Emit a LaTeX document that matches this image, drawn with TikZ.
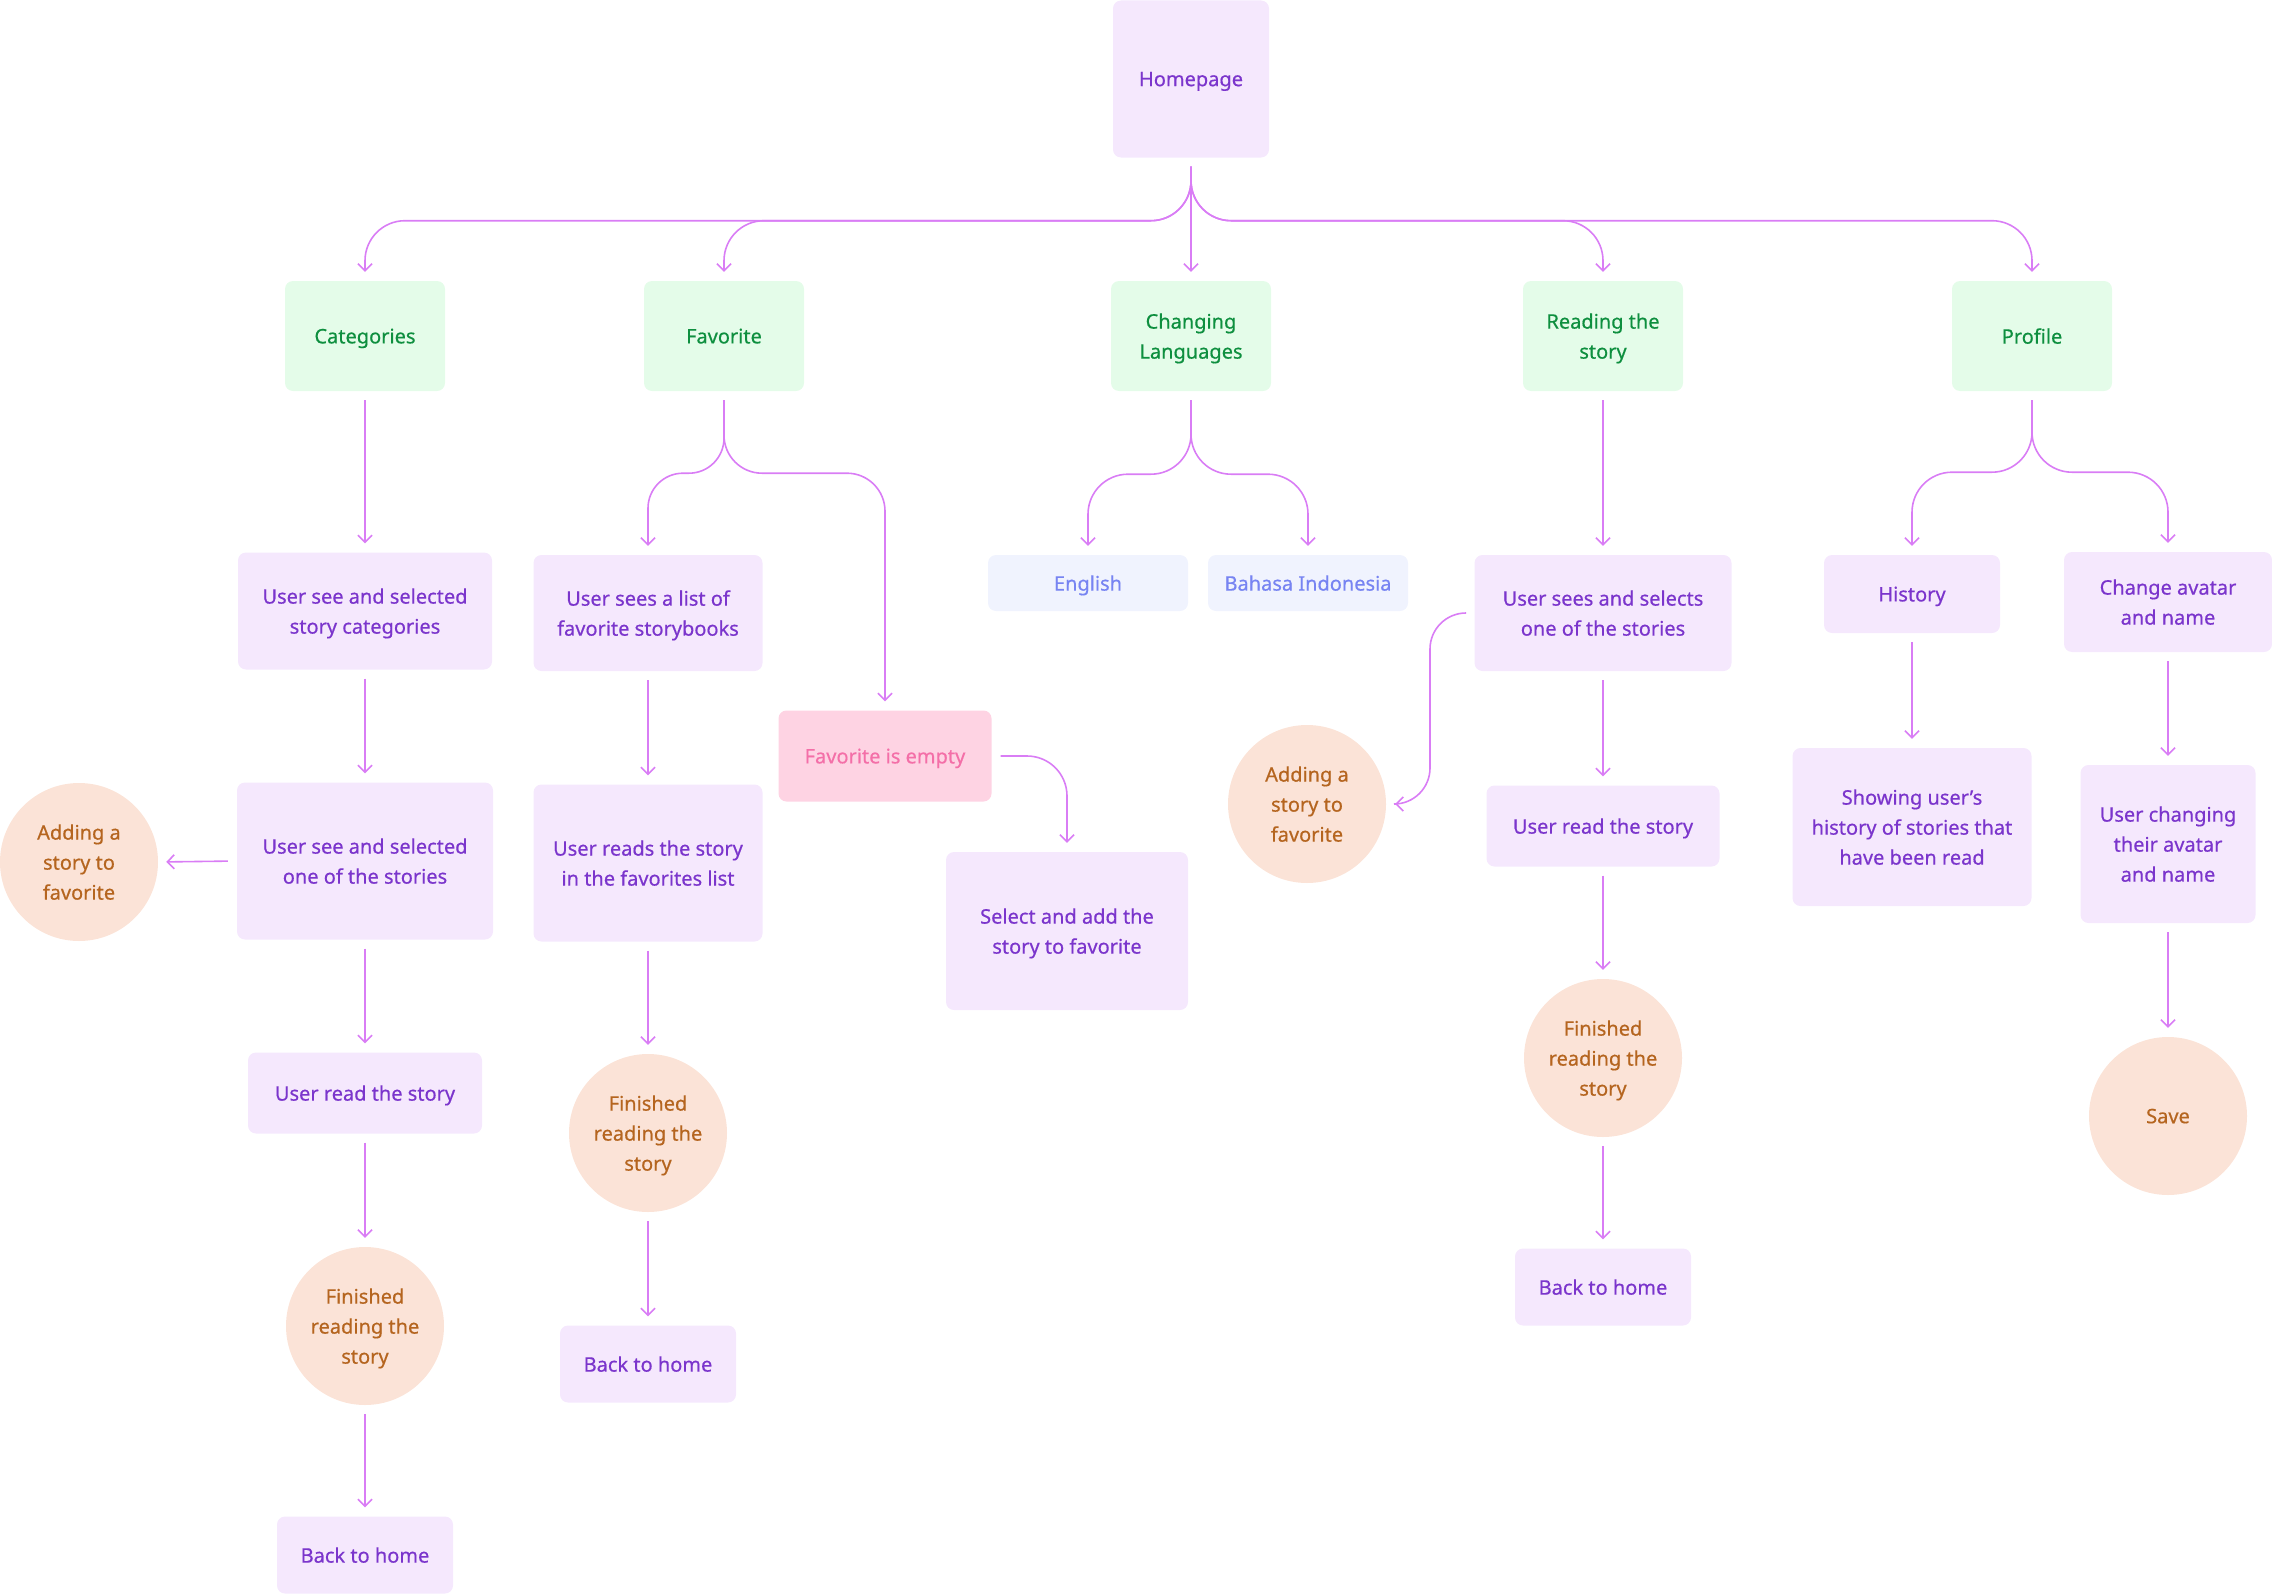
\documentclass[tikz,border=0pt]{standalone}
\usepackage{fontspec}
\setmainfont{Noto Sans}[FakeBold=0.5]
\usetikzlibrary{arrows.meta,calc}
\definecolor{linec}{HTML}{D97DF5}
\definecolor{boxfill}{HTML}{F5E8FD}
\definecolor{boxtext}{HTML}{7B35CC}
\definecolor{greenfill}{HTML}{E4FCE9}
\definecolor{greentext}{HTML}{0E8F3F}
\definecolor{langfill}{HTML}{F0F3FE}
\definecolor{langtext}{HTML}{7784F2}
\definecolor{pinkfill}{HTML}{FED3E3}
\definecolor{pinktext}{HTML}{F46FA8}
\definecolor{peach}{HTML}{FBE3D7}
\definecolor{browntext}{HTML}{B5651F}
\tikzset{
  basebox/.style={rectangle, rounded corners=8pt, inner sep=0pt, align=center, text depth=0pt, font=\fontsize{20}{30}\selectfont},
  pbox/.style={basebox, fill=boxfill, text=boxtext},
  gbox/.style={basebox, fill=greenfill, text=greentext, minimum width=160pt, minimum height=110pt},
  lbox/.style={basebox, fill=langfill, text=langtext, minimum width=200pt, minimum height=56pt},
  ebox/.style={basebox, fill=pinkfill, text=pinktext},
  circ/.style={circle, fill=peach, text=browntext, minimum size=158pt, inner sep=0pt, align=center, text depth=0pt, font=\fontsize{20}{30}\selectfont},
  conn/.style={draw=linec, line width=1.6pt, -{Straight Barb[length=7pt,width=14pt,line width=1.6pt]}, shorten >=9pt, shorten <=9pt}
}
\begin{document}
\begin{tikzpicture}[x=1pt,y=-1pt]
\useasboundingbox (0,0) rectangle (2272,1595);

% level 0
\node[pbox, minimum width=156pt, minimum height=157pt] (hp) at (1191,79) {Homepage};

% level 1
\node[gbox] (cat) at (365,336) {Categories};
\node[gbox] (fav) at (724,336) {Favorite};
\node[gbox] (lang) at (1191,336) {Changing\\Languages};
\node[gbox] (read) at (1603,336) {Reading the\\story};
\node[gbox] (prof) at (2032,336) {Profile};

% categories column
\node[pbox, minimum width=254pt, minimum height=117pt] (cat1) at (365,611) {User see and selected\\story categories};
\node[pbox, minimum width=256pt, minimum height=157pt] (cat2) at (365,861) {User see and selected\\one of the stories};
\node[circ] (catadd) at (79,862) {Adding a\\story to\\favorite};
\node[pbox, minimum width=234pt, minimum height=81pt] (cat3) at (365,1093) {User read the story};
\node[circ] (catfin) at (365,1326) {Finished\\reading the\\story};
\node[pbox, minimum width=176pt, minimum height=77pt] (cathome) at (365,1555) {Back to home};

% favorite column
\node[pbox, minimum width=229pt, minimum height=116pt] (fav1) at (648,613) {User sees a list of\\favorite storybooks};
\node[pbox, minimum width=229pt, minimum height=157pt] (fav2) at (648,863) {User reads the story\\in the favorites list};
\node[circ] (favfin) at (648,1133) {Finished\\reading the\\story};
\node[pbox, minimum width=176pt, minimum height=77pt] (favhome) at (648,1364) {Back to home};
\node[ebox, minimum width=213pt, minimum height=91pt] (pink) at (885,756) {Favorite is empty};
\node[pbox, minimum width=242pt, minimum height=158pt] (sel) at (1067,931) {Select and add the\\story to favorite};

% languages
\node[lbox] (eng) at (1088,583) {English};
\node[lbox] (bah) at (1308,583) {Bahasa Indonesia};

% reading column
\node[pbox, minimum width=257pt, minimum height=116pt] (rd1) at (1603,613) {User sees and selects\\one of the stories};
\node[circ] (rdadd) at (1307,804) {Adding a\\story to\\favorite};
\node[pbox, minimum width=233pt, minimum height=81pt] (rd2) at (1603,826) {User read the story};
\node[circ] (rdfin) at (1603,1058) {Finished\\reading the\\story};
\node[pbox, minimum width=176pt, minimum height=77pt] (rdhome) at (1603,1287) {Back to home};
\coordinate (rdbend) at (1430,804);

% profile column
\node[pbox, minimum width=176pt, minimum height=78pt] (hist) at (1912,594) {History};
\node[pbox, minimum width=208pt, minimum height=100pt] (chg) at (2168,602) {Change avatar\\and name};
\node[pbox, minimum width=239pt, minimum height=158pt] (show) at (1912,827) {Showing user’s\\history of stories that\\have been read};
\node[pbox, minimum width=175pt, minimum height=158pt] (uchg) at (2168,844) {User changing\\their avatar\\and name};
\node[circ] (save) at (2168,1116) {Save};

% connectors from homepage
\draw[conn, rounded corners=40pt] (hp.south) -- ++(0,63) -| (cat.north);
\draw[conn, rounded corners=40pt] (hp.south) -- ++(0,63) -| (fav.north);
\draw[conn] (hp.south) -- (lang.north);
\draw[conn, rounded corners=40pt] (hp.south) -- ++(0,63) -| (read.north);
\draw[conn, rounded corners=40pt] (hp.south) -- ++(0,63) -| (prof.north);

% categories
\draw[conn] (cat.south) -- (cat1.north);
\draw[conn] (cat1.south) -- (cat2.north);
\draw[conn, shorten >=8pt] (cat2.west) -- (catadd.east);
\draw[conn] (cat2.south) -- (cat3.north);
\draw[conn] (cat3.south) -- (catfin.north);
\draw[conn] (catfin.south) -- (cathome.north);

% favorite
\draw[conn, rounded corners=35pt] (fav.south) -- ++(0,82) -| (fav1.north);
\draw[conn, rounded corners=38pt] (fav.south) -- ++(0,82) -| (pink.north);
\draw[conn] (fav1.south) -- (fav2.north);
\draw[conn] (fav2.south) -- (favfin.north);
\draw[conn] (favfin.south) -- (favhome.north);
\draw[conn, rounded corners=40pt] (pink.east) -| (sel.north);

% languages
\draw[conn, rounded corners=40pt] (lang.south) -- ++(0,83) -| (eng.north);
\draw[conn, rounded corners=40pt] (lang.south) -- ++(0,83) -| (bah.north);

% reading
\draw[conn] (read.south) -- (rd1.north);
\draw[conn, rounded corners=36pt] (rd1.west) -| (rdbend) -- (rdadd.east);
\draw[conn] (rd1.south) -- (rd2.north);
\draw[conn] (rd2.south) -- (rdfin.north);
\draw[conn] (rdfin.south) -- (rdhome.north);

% profile
\draw[conn, rounded corners=40pt] (prof.south) -- ++(0,81) -| (hist.north);
\draw[conn, rounded corners=40pt] (prof.south) -- ++(0,81) -| (chg.north);
\draw[conn] (hist.south) -- (show.north);
\draw[conn] (chg.south) -- (uchg.north);
\draw[conn] (uchg.south) -- (save.north);
\end{tikzpicture}
\end{document}
